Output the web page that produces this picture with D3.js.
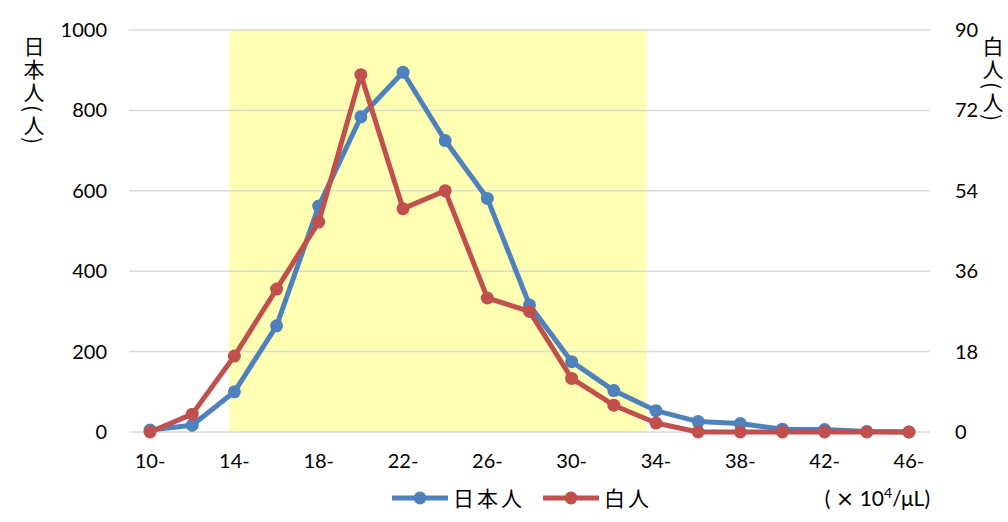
<!DOCTYPE html>
<html><head><meta charset="utf-8">
<script src="https://cdn.jsdelivr.net/npm/d3@7"></script>
<style>
html,body{margin:0;padding:0;background:#fff;}
svg{display:block;font-family:Lato,"Noto Sans",sans-serif;}
</style></head>
<body>
<svg id="chart" width="1008" height="522"></svg>
<script>
const categories = ["10-","12-","14-","16-","18-","20-","22-","24-","26-","28-","30-","32-","34-","36-","38-","40-","42-","44-","46-"];
const categoryStart = [10,12,14,16,18,20,22,24,26,28,30,32,34,36,38,40,42,44,46];
const japanese = [5,17,100,264,562,784,895,725,581,316,175,103,53,26,21,7,6,1,0];
const white = [0,4,17,32,47,80,50,54,30,27,12,6,2,0,0,0,0,0,0];
const leftTicks = [0,200,400,600,800,1000];
const rightTicks = [0,18,36,54,72,90];
const xTickLabels = ["10-","14-","18-","22-","26-","30-","34-","38-","42-","46-"];
const highlightRange = [13.75, 33.55];
const seriesNames = ["日本人","白人"];
const leftTitle = "日本人(人)";
const rightTitle = "白人(人)";
const unitParts = ["( ", "×", " 10", "4", "/μL)"];

const colors = {jp:"#4F81BD", wh:"#C0504D", grid:"#D9D9D9", band:"#FFFFB3"};
const m = {left:129, right:930, top:30, bottom:432};
const svg = d3.select("#chart");

const x = d3.scaleBand().domain(categories).range([m.left, m.right]);
const cx = c => x(c) + x.bandwidth()/2;
const xNum = d3.scaleLinear().domain([categoryStart[0], categoryStart[categoryStart.length-1]])
  .range([cx(categories[0]), cx(categories[categories.length-1])]);
const yL = d3.scaleLinear().domain([0,1000]).range([m.bottom, m.top]);
const yR = d3.scaleLinear().domain([0,90]).range([m.bottom, m.top]);

svg.append("rect")
  .attr("x", xNum(highlightRange[0])).attr("y", yL(1000))
  .attr("width", xNum(highlightRange[1]) - xNum(highlightRange[0]))
  .attr("height", yL(0) - yL(1000))
  .attr("fill", colors.band);

svg.append("g").selectAll("line").data(leftTicks).join("line")
  .attr("x1", m.left).attr("x2", m.right)
  .attr("y1", d => yL(d)).attr("y2", d => yL(d))
  .attr("stroke", colors.grid).attr("stroke-width", 1.5);

const tickFont = 20;
const axL = d3.axisLeft(yL).tickValues(leftTicks).tickFormat(d3.format("d")).tickSize(0).tickPadding(22);
svg.append("g").attr("transform", `translate(${m.left},0)`).call(axL)
  .call(g => g.select(".domain").remove())
  .selectAll("text").attr("font-size", tickFont).attr("fill", "#000").attr("font-family", "Lato,sans-serif");

const axR = d3.axisRight(yR).tickValues(rightTicks).tickSize(0).tickPadding(25);
svg.append("g").attr("transform", `translate(${m.right},0)`).call(axR)
  .call(g => g.select(".domain").remove())
  .selectAll("text").attr("font-size", tickFont).attr("fill", "#000").attr("font-family", "Lato,sans-serif");

const axX = d3.axisBottom(x).tickValues(xTickLabels).tickSize(0).tickPadding(22);
svg.append("g").attr("transform", `translate(0,${m.bottom})`).call(axX)
  .call(g => g.select(".domain").remove())
  .selectAll("text").attr("font-size", tickFont).attr("fill", "#000").attr("font-family", "Lato,sans-serif");

function drawSeries(vals, yScale, color) {
  const line = d3.line().x((d,i) => cx(categories[i])).y(d => yScale(d));
  svg.append("path").datum(vals).attr("d", line)
    .attr("fill", "none").attr("stroke", color).attr("stroke-width", 5)
    .attr("stroke-linejoin", "round");
  svg.append("g").selectAll("circle").data(vals).join("circle")
    .attr("cx", (d,i) => cx(categories[i])).attr("cy", d => yScale(d))
    .attr("r", 6.5).attr("fill", color);
}
drawSeries(japanese, yL, colors.jp);
drawSeries(white, yR, colors.wh);

const cjk = "'Noto Sans CJK JP',sans-serif";
svg.append("text").attr("x", 34).attr("y", 36)
  .attr("writing-mode", "vertical-rl").attr("font-size", 21)
  .attr("font-family", cjk).attr("fill", "#000")
  .attr("letter-spacing", 2).text(leftTitle);
svg.append("text").attr("x", 993).attr("y", 36)
  .attr("writing-mode", "vertical-rl").attr("font-size", 21)
  .attr("font-family", cjk).attr("fill", "#000")
  .attr("letter-spacing", 2).text(rightTitle);

const legend = svg.append("g");
const legItems = [{name:seriesNames[0], color:colors.jp, x0:392}, {name:seriesNames[1], color:colors.wh, x0:543}];
legItems.forEach(it => {
  legend.append("line").attr("x1", it.x0).attr("x2", it.x0+56).attr("y1", 498).attr("y2", 498)
    .attr("stroke", it.color).attr("stroke-width", 5);
  legend.append("circle").attr("cx", it.x0+28).attr("cy", 498).attr("r", 6.5).attr("fill", it.color);
  legend.append("text").attr("x", it.x0+61).attr("y", 506).attr("font-size", 21)
    .attr("font-family", cjk).attr("fill", "#000").attr("letter-spacing", 3).text(it.name);
});

const unit = svg.append("text").attr("x", 930).attr("y", 506).attr("text-anchor", "end")
  .attr("font-size", 21).attr("fill", "#000").attr("font-family", "Lato,sans-serif");
unit.append("tspan").text(unitParts[0]);
unit.append("tspan").attr("font-family", "'DejaVu Sans',sans-serif").attr("font-size", 22).text(unitParts[1]);
unit.append("tspan").text(unitParts[2]);
unit.append("tspan").attr("font-size", 14).attr("dy", -8).text(unitParts[3]);
unit.append("tspan").attr("dy", 8).text(unitParts[4]);
</script>
</body></html>
